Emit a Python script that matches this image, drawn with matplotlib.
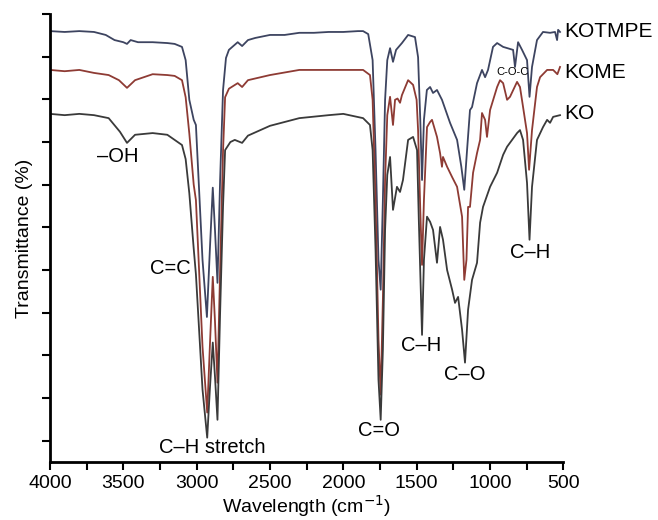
import matplotlib
matplotlib.use('Agg')
import matplotlib.pyplot as plt
import numpy as np

plt.rcParams['font.family'] = ['Liberation Sans', 'DejaVu Sans']

# wavenumber (cm-1) and transmittance (%)
kotmpe_w = [4000, 3900, 3800, 3700, 3620, 3560, 3500, 3475, 3450, 3400, 3300, 3200,
            3150, 3100, 3075, 3050, 3020, 3005, 2990, 2960, 2930, 2910, 2890, 2875,
            2858, 2840, 2820, 2800, 2780, 2750, 2720, 2690, 2650, 2600, 2500, 2400,
            2300, 2200, 2100, 2000, 1900, 1865, 1830, 1800, 1780, 1760, 1745, 1730,
            1715, 1700, 1681, 1661, 1640, 1600, 1558, 1511, 1490, 1475, 1463, 1450,
            1430, 1408, 1388, 1361, 1327, 1272, 1224, 1195, 1175, 1156, 1136, 1122,
            1088, 1054, 1033, 1013, 979, 951, 910, 842, 829, 808, 781, 747, 730,
            713, 679, 638, 590, 556, 542, 535, 522]
kotmpe_t = [96.0, 95.8, 96.0, 95.8, 95.1, 93.9, 93.4, 93.0, 93.9, 93.4, 93.4, 93.2,
            93.0, 92.3, 89.2, 79.9, 75.2, 74.0, 63.5, 42.4, 29.0, 44.7, 59.3, 49.4,
            37.0, 61.1, 82.2, 89.7, 91.6, 92.5, 93.4, 92.5, 93.9, 94.4, 95.1, 95.1,
            95.6, 95.6, 95.8, 95.8, 96.0, 96.0, 95.3, 89.2, 68.0, 42.4, 35.4, 56.4,
            79.9, 89.2, 92.0, 88.8, 91.6, 93.2, 95.1, 94.6, 89.9, 75.2, 61.1, 75.2,
            82.2, 82.9, 81.5, 82.2, 79.9, 74.5, 70.5, 64.2, 58.8, 68.1, 77.5, 78.2,
            83.8, 86.9, 85.2, 86.9, 92.3, 93.2, 92.3, 91.6, 87.6, 93.4, 91.6, 89.2, 80.6,
            87.6, 93.9, 95.8, 95.6, 95.8, 93.9, 96.3, 95.8]

kome_w = [4000, 3900, 3800, 3700, 3600, 3530, 3475, 3420, 3300, 3200, 3150, 3100,
          3075, 3050, 3020, 3005, 2990, 2960, 2928, 2910, 2890, 2875, 2858, 2840,
          2820, 2806, 2780, 2720, 2690, 2650, 2500, 2300, 2100, 2000, 1865, 1818,
          1800, 1780, 1760, 1745, 1730, 1715, 1700, 1681, 1661, 1647, 1630, 1613,
          1600, 1558, 1524, 1500, 1490, 1475, 1463, 1450, 1429, 1408, 1395, 1361,
          1340, 1327, 1320, 1292, 1258, 1224, 1190, 1175, 1160, 1149, 1136, 1115,
          1088, 1067, 1054, 1033, 1020, 999, 951, 931, 910, 883, 863, 815, 795,
          774, 747, 733, 713, 679, 658, 610, 569, 540, 522]
kome_t = [86.9, 86.6, 86.9, 86.2, 85.7, 84.5, 82.7, 84.5, 85.9, 85.7, 85.5, 84.5,
          80.5, 72.0, 60.0, 56.4, 45.0, 22.0, 6.6, 22.0, 38.4, 28.0, 13.6, 40.0,
          68.0, 80.5, 82.5, 83.8, 82.9, 84.5, 85.7, 86.9, 86.9, 86.9, 86.9, 85.7,
          79.9, 56.4, 23.7, 10.8, 33.0, 61.1, 76.3, 80.6, 74.0, 79.9, 80.2, 79.2,
          81.0, 84.5, 83.4, 79.9, 72.8, 54.1, 41.2, 56.4, 73.5, 74.7, 75.2, 71.2,
          67.4, 64.2, 66.5, 64.2, 61.8, 59.5, 52.5, 37.7, 42.4, 54.8, 54.8, 62.8,
          67.4, 70.5, 76.8, 75.2, 71.2, 77.5, 82.9, 84.5, 83.8, 79.9, 80.6, 84.1, 82.9,
          78.2, 72.1, 63.5, 72.8, 82.9, 85.2, 86.9, 86.9, 85.9, 87.6]

ko_w = [4000, 3900, 3800, 3700, 3600, 3523, 3475, 3420, 3300, 3200, 3100, 3075,
        3050, 3020, 3005, 2990, 2960, 2928, 2910, 2890, 2875, 2858, 2840, 2820,
        2806, 2770, 2740, 2690, 2650, 2500, 2300, 2100, 2000, 1865, 1818, 1800,
        1780, 1760, 1745, 1730, 1715, 1700, 1681, 1661, 1634, 1613, 1593, 1558,
        1524, 1497, 1485, 1463, 1450, 1429, 1408, 1388, 1361, 1340, 1320, 1292,
        1258, 1238, 1217, 1190, 1170, 1149, 1122, 1088, 1067, 1047, 999, 951,
        910, 883, 815, 795, 774, 747, 730, 713, 679, 638, 610, 590, 569, 522]
ko_t = [76.6, 76.3, 76.6, 76.3, 75.6, 72.4, 69.8, 71.7, 72.1, 71.7, 69.3, 66.0,
        58.0, 45.0, 39.0, 30.0, 12.0, 0.7, 12.0, 23.0, 15.0, 4.9, 30.0, 55.0,
        68.1, 70.0, 70.5, 69.8, 71.5, 73.8, 75.6, 76.3, 76.6, 75.6, 74.0, 68.1,
        44.7, 14.3, 4.9, 21.3, 49.4, 62.3, 66.5, 54.1, 59.5, 58.3, 61.1, 70.5,
        71.2, 68.1, 51.8, 24.8, 42.4, 52.5, 51.3, 49.4, 41.7, 50.1, 47.1, 40.0,
        35.4, 32.3, 33.7, 26.0, 18.3, 30.7, 37.7, 41.7, 51.1, 54.8, 59.5, 62.8,
        67.0, 68.9, 72.1, 72.8, 70.5, 60.4, 47.1, 59.5, 70.5, 73.5, 75.2, 74.5, 75.9, 76.3]

series_names = ['KOTMPE', 'KOME', 'KO']
series_colors = ['#3d4460', '#8e3b34', '#3a3a3a']

# band labels: text, wavenumber, transmittance
band_text = ['\u2013OH', 'C=C', 'C\u2013H stretch', 'C=O', 'C\u2013H', 'C\u2013O', 'C\u2013H']
band_w = [3536, 3182, 2892, 1756, 1470, 1170, 727]
band_t = [66.5, 40.3, -1.6, 2.5, 22.2, 15.5, 44.0]

fig = plt.figure(figsize=(6.58, 5.2), dpi=100)
ax = fig.add_axes([0.076, 0.1115, 0.78, 0.8615])

for w, t, c in zip([kotmpe_w, kome_w, ko_w], [kotmpe_t, kome_t, ko_t], series_colors):
    ax.plot(w, t, color=c, lw=1.3)

for name, t in zip(series_names, [96.0, 86.4, 76.8]):
    ax.text(490, t, name, ha='left', va='center', fontsize=15)

ax.text(849, 86.4, 'C-O-C', ha='center', va='center', fontsize=8)
for s, w, t in zip(band_text, band_w, band_t):
    ax.text(w, t, s, ha='center', va='center', fontsize=14.5)

ax.set_xlim(4000, 500)
ax.set_ylim(-5, 100)
ax.set_xticks(np.arange(4000, 499, -500))
ax.set_xticks(np.arange(3750, 500, -500), minor=True)
ax.set_yticks(np.arange(0, 101, 10))
ax.set_yticklabels([])
ax.tick_params(axis='both', direction='out', length=6, width=1.5, labelsize=14)
ax.tick_params(axis='x', which='minor', direction='out', length=6, width=1.5)
for s in ['top', 'right']:
    ax.spines[s].set_visible(False)
for s in ['left', 'bottom']:
    ax.spines[s].set_linewidth(2)

ax.set_xlabel('Wavelength (cm$^{-1}$)', fontsize=14, labelpad=0.5)
ax.set_ylabel('Transmittance (%)', fontsize=14, labelpad=3)

plt.savefig('out.png', dpi=100)
